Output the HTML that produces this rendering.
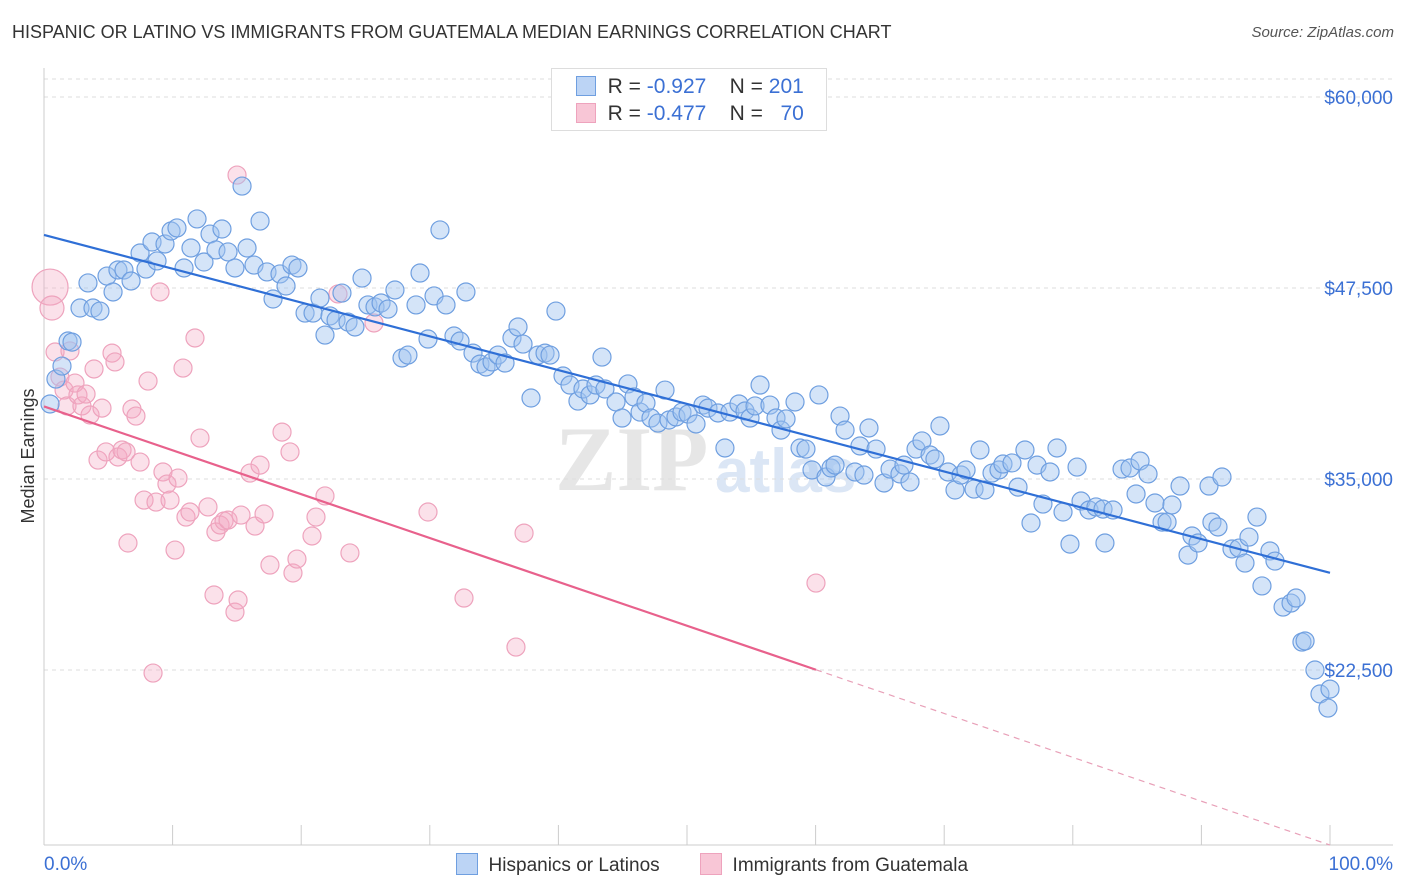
<!DOCTYPE html>
<html><head><meta charset="utf-8"><style>
body{margin:0;background:#fff;font-family:"Liberation Sans",sans-serif;}
#wrap{position:relative;width:1406px;height:892px;overflow:hidden}
.t{position:absolute;white-space:nowrap}
</style></head><body><div id="wrap">
<div class="t" style="left:12px;top:22px;font-size:18px;color:#333">HISPANIC OR LATINO VS IMMIGRANTS FROM GUATEMALA MEDIAN EARNINGS CORRELATION CHART</div>
<div class="t" style="right:12px;top:24px;font-size:15px;color:#555;font-style:italic">Source: ZipAtlas.com</div>
<svg id="svg" width="1406" height="892" style="position:absolute;left:0;top:0"></svg>
</div>
<script>
const blueX=[0.47,0.93,1.4,1.87,2.18,2.8,3.42,3.81,4.35,4.9,5.37,5.75,6.22,6.77,7.47,7.93,8.4,8.79,9.41,9.88,10.34,10.89,11.43,11.9,12.44,12.91,13.37,13.84,14.31,14.85,15.4,15.79,16.33,16.8,17.34,17.81,18.35,18.82,19.28,19.75,20.3,20.92,21.46,21.85,22.24,22.71,23.17,23.64,24.18,24.73,25.19,25.74,26.21,26.75,27.29,27.84,28.3,28.93,29.24,29.86,30.33,30.79,31.26,31.88,32.35,32.81,33.36,33.9,34.37,34.84,35.3,35.85,36.39,36.86,37.25,37.87,38.41,38.96,39.35,39.81,40.36,40.9,41.52,41.91,42.46,42.92,43.39,43.62,44.48,44.95,45.41,45.88,46.35,46.81,47.2,47.74,48.29,48.6,49.14,49.61,50.08,50.7,51.24,51.63,52.41,52.95,53.34,54.04,54.51,54.9,55.29,55.68,56.45,56.92,57.31,57.7,58.4,58.79,59.25,59.72,60.26,60.81,61.2,61.51,61.9,62.29,63.06,63.45,63.76,64.15,64.7,65.32,65.79,66.56,66.87,67.34,67.81,68.27,68.9,69.28,69.67,70.3,70.84,71.31,71.7,72.32,72.78,73.17,73.72,74.26,74.57,75.27,75.74,76.28,76.75,77.22,77.68,78.23,78.77,79.24,79.78,80.33,80.64,81.26,81.8,82.35,82.5,83.13,83.83,84.45,84.92,85.23,85.85,86.39,86.94,87.33,87.71,88.34,88.96,89.27,89.74,90.59,90.82,91.29,91.6,92.38,92.92,93.39,93.7,94.32,94.71,95.33,95.72,96.35,96.97,97.36,97.82,98.06,98.83,99.22,99.84,100];
const blueY=[39.91,41.54,42.39,44.03,43.96,46.19,47.83,46.19,45.99,48.28,47.24,48.68,48.68,47.96,49.79,48.74,50.51,49.27,50.38,51.23,51.43,48.81,50.12,52.02,49.2,51.03,49.99,51.36,49.86,48.81,54.17,50.12,49.0,51.88,48.55,46.78,48.42,47.63,49.0,48.81,45.86,45.86,46.84,44.42,45.67,45.4,47.17,45.27,44.95,48.15,46.39,46.26,46.52,46.12,47.37,42.92,43.11,46.39,48.48,44.16,46.98,51.3,46.39,44.36,44.03,47.24,43.24,42.52,42.33,42.66,43.11,42.59,44.23,44.95,43.83,40.3,43.11,43.24,43.11,45.99,41.74,41.15,40.1,40.89,40.5,41.15,42.98,40.89,40.04,38.99,41.22,40.37,39.38,39.97,38.99,38.66,40.82,38.86,39.06,39.38,39.25,38.6,39.84,39.64,39.32,37.03,39.38,39.91,39.45,38.99,39.78,41.15,39.84,38.99,38.2,38.93,40.04,37.03,36.96,35.59,40.5,35.13,35.72,35.91,39.12,38.2,35.46,37.16,35.26,38.34,36.96,34.74,35.65,35.33,35.91,34.8,36.96,37.49,36.57,36.31,38.47,35.46,34.28,35.26,35.59,34.34,36.9,34.28,35.39,35.59,35.98,36.05,34.47,36.9,32.12,35.91,33.36,35.46,37.03,32.84,30.74,35.78,33.56,32.97,33.17,33.03,30.81,32.97,35.65,35.72,34.02,36.18,35.33,33.43,32.18,32.18,33.3,34.54,30.02,31.27,30.81,34.54,32.18,31.86,35.13,30.42,30.48,29.5,31.2,32.51,28.0,30.29,29.63,26.62,26.88,27.21,24.33,24.4,22.5,20.93,20.01,21.25];
const pinkX=[0.47,0.62,0.86,1.24,1.56,1.79,2.02,2.41,2.64,2.95,3.27,3.58,3.89,4.2,4.51,4.82,5.29,5.52,5.75,6.07,6.38,6.53,6.84,7.15,7.47,7.78,8.09,8.48,8.71,9.02,9.25,9.56,9.8,10.19,10.42,10.81,11.04,11.35,11.74,12.13,12.75,13.22,13.37,13.69,14.0,14.31,14.85,15.01,15.09,15.32,16.02,16.41,16.8,17.11,17.57,18.51,19.13,19.36,19.67,20.84,21.15,21.85,22.86,23.79,25.66,29.86,32.66,36.7,37.33,60.03];
const pinkY=[47.56,46.19,43.31,41.67,40.82,39.78,43.38,41.28,40.5,39.78,40.56,39.19,42.2,36.24,39.64,36.77,43.24,42.66,36.44,36.9,36.77,30.81,39.58,39.12,36.11,33.62,41.41,22.3,33.49,47.24,35.46,34.67,33.62,30.35,35.06,42.26,32.51,32.84,44.23,37.68,33.17,27.41,31.53,31.99,32.25,32.31,26.29,54.89,27.08,32.64,35.39,31.92,35.91,32.71,29.37,38.07,36.77,28.85,29.76,31.27,32.51,33.89,47.11,30.16,45.21,32.84,27.21,24.0,31.46,28.19];
const pinkR=[18,12];
const yTicks=[60,47.5,35,22.5];
const yTickLabels=["$60,000","$47,500","$35,000","$22,500"];
const xTicks=[0,10,20,30,40,50,60,70,80,90,100];

const X0=44,X1=1330,YV0=60,YP0=97,PXK=191/12.5;
const sx=v=>X0+(X1-X0)*v/100;
const sy=v=>YP0+(YV0-v)*PXK;
const svg=document.getElementById('svg');
const NS='http://www.w3.org/2000/svg';
function mk(tag,attrs){const e=document.createElementNS(NS,tag);for(const k in attrs)e.setAttribute(k,attrs[k]);svg.appendChild(e);return e;}

let wm=mk('text',{x:555,y:490,'font-size':92,'font-family':'Liberation Serif, serif','fill':'#e6e6e6','font-weight':'bold'});wm.textContent='ZIP';


let wm2=mk('text',{x:715,y:492,'font-size':62,'font-family':'Liberation Sans, sans-serif','fill':'#dbe6f5','font-weight':'bold'});wm2.textContent='atlas';



let topGrid=mk('line',{x1:X0,x2:1393,y1:79,y2:79,stroke:'#ddd','stroke-dasharray':'4,4'});


yTicks.forEach((t,i)=>{
  const g=mk('line',{x1:X0,x2:1393,y1:sy(t),y2:sy(t),stroke:'#ddd','stroke-dasharray':'4,4'});
  
  
  const l=mk('text',{x:1393,y:sy(t)+7,'text-anchor':'end','font-size':19,fill:'#3b70d4','font-family':'Liberation Sans, sans-serif'});
  l.textContent=yTickLabels[i];
  
  
});
let ax=mk('line',{x1:X0,x2:X0,y1:68,y2:845,stroke:'#ccc'});


let bx=mk('line',{x1:X0,x2:1393,y1:845,y2:845,stroke:'#ccc'});


xTicks.forEach(t=>{
  const k=mk('line',{x1:sx(t),x2:sx(t),y1:825,y2:845,stroke:'#ccc'});
  
  
});
let yt=mk('text',{x:34,y:456,'text-anchor':'middle','font-size':18,fill:'#333',transform:'rotate(-90 34 456)','font-family':'Liberation Sans, sans-serif'});
yt.textContent='Median Earnings';


let xl0=mk('text',{x:44,y:870,'font-size':19,fill:'#3b70d4','font-family':'Liberation Sans, sans-serif'});xl0.textContent='0.0%';


let xl1=mk('text',{x:1393,y:870,'text-anchor':'end','font-size':19,fill:'#3b70d4','font-family':'Liberation Sans, sans-serif'});xl1.textContent='100.0%';



pinkX.forEach((v,i)=>{
  const c=mk('circle',{cx:sx(v),cy:sy(pinkY[i]),r:pinkR[i]||9,fill:'rgba(244,170,195,0.35)',stroke:'#eea3bd','stroke-width':1.2});
  
  
});
blueX.forEach((v,i)=>{
  const c=mk('circle',{cx:sx(v),cy:sy(blueY[i]),r:9,fill:'rgba(160,195,240,0.45)',stroke:'#6f9fe0','stroke-width':1.2});
  
  
});
function fit(xs,ys){const n=xs.length;let mx=0,my=0;xs.forEach((x,i)=>{mx+=x;my+=ys[i];});mx/=n;my/=n;let a=0,b=0;xs.forEach((x,i)=>{a+=(x-mx)*(ys[i]-my);b+=(x-mx)**2;});const s=a/b;return [s,my-s*mx];}
const [bs,bi]=fit(blueX,blueY);
let bl=mk('line',{x1:sx(0),y1:sy(bi),x2:sx(100),y2:sy(bi+bs*100),stroke:'#2f6fd6','stroke-width':2.2});


const [ps,pi]=fit(pinkX,pinkY);
const pmax=Math.max(...pinkX);
let pl=mk('line',{x1:sx(0),y1:sy(pi),x2:sx(pmax),y2:sy(pi+ps*pmax),stroke:'#e8618c','stroke-width':2.2});


let pd=mk('line',{x1:sx(pmax),y1:sy(pi+ps*pmax),x2:sx(100),y2:sy(pi+ps*100),stroke:'#e8a0b8','stroke-width':1.2,'stroke-dasharray':'6,5'});


</script>
<div class="t" style="left:551px;top:68px;width:274px;height:61px;border:1px solid #ddd;background:#fff;font-size:21px;color:#333">
 <div style="position:absolute;left:24px;top:6px"><span style="display:inline-block;width:18px;height:18px;background:#bcd4f5;border:1px solid #6f9fe0;vertical-align:-3px"></span>&nbsp; R = <span style="color:#3b70d4">-0.927</span> &nbsp;&nbsp; N = <span style="color:#3b70d4">201</span></div>
 <div style="position:absolute;left:24px;top:33px"><span style="display:inline-block;width:18px;height:18px;background:#f8c6d6;border:1px solid #eea3bd;vertical-align:-3px"></span>&nbsp; R = <span style="color:#3b70d4">-0.477</span> &nbsp;&nbsp; N = &nbsp;&nbsp;<span style="color:#3b70d4">70</span></div>
</div>
<div class="t" style="left:456px;top:853px;font-size:19px;color:#333"><span style="display:inline-block;width:20px;height:20px;background:#bcd4f5;border:1px solid #6f9fe0;vertical-align:-4px"></span>&nbsp; Hispanics or Latinos</div>
<div class="t" style="left:700px;top:853px;font-size:19px;color:#333"><span style="display:inline-block;width:20px;height:20px;background:#f8c6d6;border:1px solid #eea3bd;vertical-align:-4px"></span>&nbsp; Immigrants from Guatemala</div>
</body></html>
